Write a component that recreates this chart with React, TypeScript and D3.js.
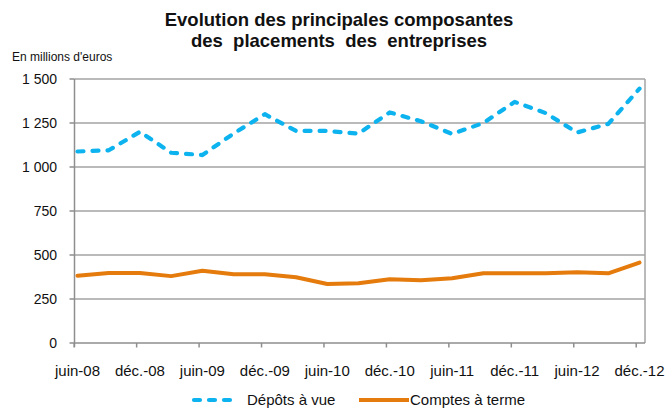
import React from "react";
import * as d3 from "d3";

const categories = [
  "juin-08", "sept.-08", "déc.-08", "mars-09", "juin-09", "sept.-09", "déc.-09",
  "mars-10", "juin-10", "sept.-10", "déc.-10", "mars-11", "juin-11", "sept.-11",
  "déc.-11", "mars-12", "juin-12", "sept.-12", "déc.-12",
];
const depotsAVue = [
  1088, 1095, 1200, 1081, 1068, 1190, 1300, 1205, 1205, 1190, 1310, 1260, 1188,
  1250, 1370, 1306, 1196, 1245, 1445,
];
const comptesATerme = [
  382, 398, 398, 380, 411, 390, 390, 374, 335, 340, 362, 357, 368, 396, 397, 397,
  402, 396, 457,
];
const yTicks = [0, 250, 500, 750, 1000, 1250, 1500];
const yTickLabels = ["0", "250", "500", "750", "1 000", "1 250", "1 500"];
const xLabelEvery = 2;
const titleLines = ["Evolution des principales composantes", "des  placements  des  entreprises"];
const unitLabel = "En millions d'euros";
const seriesNames = ["Dépôts à vue", "Comptes à terme"];

const W = 667;
const H = 408;
const plot = { left: 74.5, right: 645, top: 79, bottom: 343 };
const BLUE = "#0DB3EE";
const ORANGE = "#E47B0C";
const GRID = "#A3A3A3";
const AXIS = "#8E8E8E";
const FONT = "'Liberation Sans', Arial, sans-serif";

export default function App() {
  const x = d3.scaleLinear().domain([0, categories.length - 1]).range([77.5, 639.5]);
  const y = d3.scaleLinear().domain([0, 1500]).range([plot.bottom, plot.top]);
  const line = d3
    .line<number>()
    .x((_, i) => x(i))
    .y((d) => y(d));
  const tickIdx = d3.range(0, categories.length, xLabelEvery);
  const tickOffset = -3.3;

  return (
    <svg
      width={W}
      height={H}
      style={{ position: "absolute", left: 0, top: 0, background: "#fff" }}
      fontFamily={FONT}
    >
      {/* title */}
      {titleLines.map((t, i) => (
        <text
          key={t}
          x={339}
          y={26 + i * 21}
          textAnchor="middle"
          fontWeight="bold"
          fontSize={18.5}
          fill="#111"
          style={{ whiteSpace: "pre" }}
        >
          {t}
        </text>
      ))}
      <text x={12} y={61} fontSize={12} fill="#111">
        {unitLabel}
      </text>

      {/* gridlines */}
      {yTicks.slice(1).map((v) => (
        <line key={v} x1={plot.left} x2={plot.right} y1={y(v)} y2={y(v)} stroke={GRID} strokeWidth={1.5} />
      ))}
      {/* right border */}
      <line x1={plot.right} x2={plot.right} y1={plot.top} y2={plot.bottom} stroke={GRID} strokeWidth={1.5} />

      {/* y axis */}
      <line x1={plot.left} x2={plot.left} y1={plot.top} y2={plot.bottom + 4} stroke={AXIS} strokeWidth={1.5} />
      {yTicks.map((v, i) => (
        <g key={v}>
          <line x1={plot.left - 5} x2={plot.left} y1={y(v)} y2={y(v)} stroke={AXIS} strokeWidth={1.5} />
          <text x={57} y={y(v)} dy="0.35em" textAnchor="end" fontSize={14} fill="#111">
            {yTickLabels[i]}
          </text>
        </g>
      ))}

      {/* x axis */}
      <line x1={plot.left} x2={plot.right} y1={plot.bottom} y2={plot.bottom} stroke={AXIS} strokeWidth={1.5} />
      {tickIdx.map((i) => (
        <g key={i}>
          <line
            x1={x(i) + tickOffset}
            x2={x(i) + tickOffset}
            y1={plot.bottom}
            y2={plot.bottom + 4.5}
            stroke={AXIS}
            strokeWidth={1.5}
          />
          <text x={x(i)} y={376} textAnchor="middle" fontSize={15} fill="#111">
            {categories[i]}
          </text>
        </g>
      ))}

      {/* series */}
      <path d={line(comptesATerme) || ""} fill="none" stroke={ORANGE} strokeWidth={4} strokeLinejoin="round" strokeLinecap="round" />
      <path
        d={line(depotsAVue) || ""}
        fill="none"
        stroke={BLUE}
        strokeWidth={4.2}
        strokeDasharray="6,9"
        strokeLinejoin="round"
        strokeLinecap="round"
      />

      {/* legend */}
      <line x1={194} x2={236} y1={400} y2={400} stroke={BLUE} strokeWidth={4.2} strokeDasharray="6,9" strokeLinecap="round" />
      <text x={247} y={405} fontSize={15} fill="#111">
        {seriesNames[0]}
      </text>
      <line x1={359} x2={409} y1={400} y2={400} stroke={ORANGE} strokeWidth={4} />
      <text x={410} y={405} fontSize={15} fill="#111">
        {seriesNames[1]}
      </text>
    </svg>
  );
}
